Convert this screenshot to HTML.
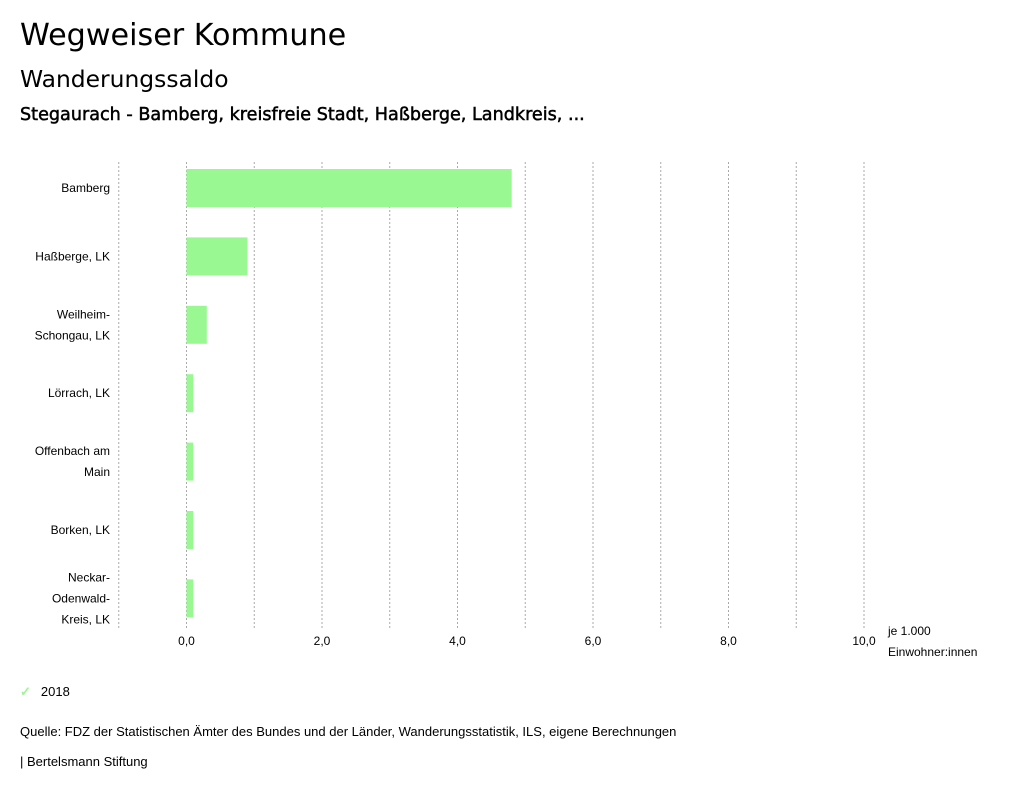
<!DOCTYPE html>
<html><head><meta charset="utf-8"><style>
body{margin:0;width:1024px;height:795px;background:#fff;font-family:"Liberation Sans",sans-serif;color:#000;position:relative;overflow:hidden}
.t{position:absolute;white-space:nowrap}
.d{font-family:"DejaVu Sans",sans-serif}
</style></head><body>
<div class="t d" style="left:20px;top:18px;font-size:30.2px">Wegweiser Kommune</div>
<div class="t d" style="left:20px;top:65px;font-size:23.4px">Wanderungssaldo</div>
<div class="t d" style="left:20px;top:105px;font-size:17.6px;-webkit-text-stroke:0.5px #000">Stegaurach - Bamberg, kreisfreie Stadt, Haßberge, Landkreis, ...</div>
<svg id="chart" width="1024" height="680" style="position:absolute;left:0;top:0"></svg>
<div class="t" style="left:20px;top:684px;font-size:13px"><span style="color:#9af893;margin-right:10px;font-weight:bold">✓</span>2018</div>
<div class="t" style="left:20px;top:724px;font-size:13px">Quelle: FDZ der Statistischen Ämter des Bundes und der Länder, Wanderungsstatistik, ILS, eigene Berechnungen</div>
<div class="t" style="left:20px;top:754px;font-size:13px">| Bertelsmann Stiftung</div>
<script>
const categories=[["Bamberg"],["Haßberge, LK"],["Weilheim-","Schongau, LK"],["Lörrach, LK"],["Offenbach am","Main"],["Borken, LK"],["Neckar-","Odenwald-","Kreis, LK"]];
const values=[4.8,0.9,0.3,0.1,0.1,0.1,0.1];
const ticks=[0,2,4,6,8,10];
const tickLabels=["0,0","2,0","4,0","6,0","8,0","10,0"];
const svg=document.getElementById('chart');const NS="http://www.w3.org/2000/svg";
const x=v=>186.5+v*67.75;
const rowY=i=>188+i*68.4;
function mk(t,a){const e=document.createElementNS(NS,t);for(const k in a)e.setAttribute(k,a[k]);svg.appendChild(e);return e;}
for(let v=-1;v<=10;v++){const l=mk('line',{x1:x(v),x2:x(v),y1:162,y2:628,stroke:'#aaa','stroke-dasharray':'2,2','stroke-width':1});

}
ticks.forEach((v,i)=>{const t=mk('text',{x:x(v),y:645,'text-anchor':'middle','font-size':12,'font-family':'Liberation Sans'});t.textContent=tickLabels[i];

});
const u1=mk('text',{x:888,y:635,'font-size':12,'font-family':'Liberation Sans'});u1.textContent='je 1.000';


const u2=mk('text',{x:888,y:656,'font-size':12,'font-family':'Liberation Sans'});u2.textContent='Einwohner:innen';


values.forEach((v,i)=>{const cy=rowY(i);
const r=mk('rect',{x:x(0),y:cy-19,width:x(v)-x(0),height:38,fill:'#9af893'});


const lines=categories[i];const n=lines.length;
lines.forEach((s,j)=>{const t=mk('text',{x:110,y:cy+4+(j-(n-1)/2)*21,'text-anchor':'end','font-size':12,'font-family':'Liberation Sans'});t.textContent=s;

});});
</script>
</body></html>
